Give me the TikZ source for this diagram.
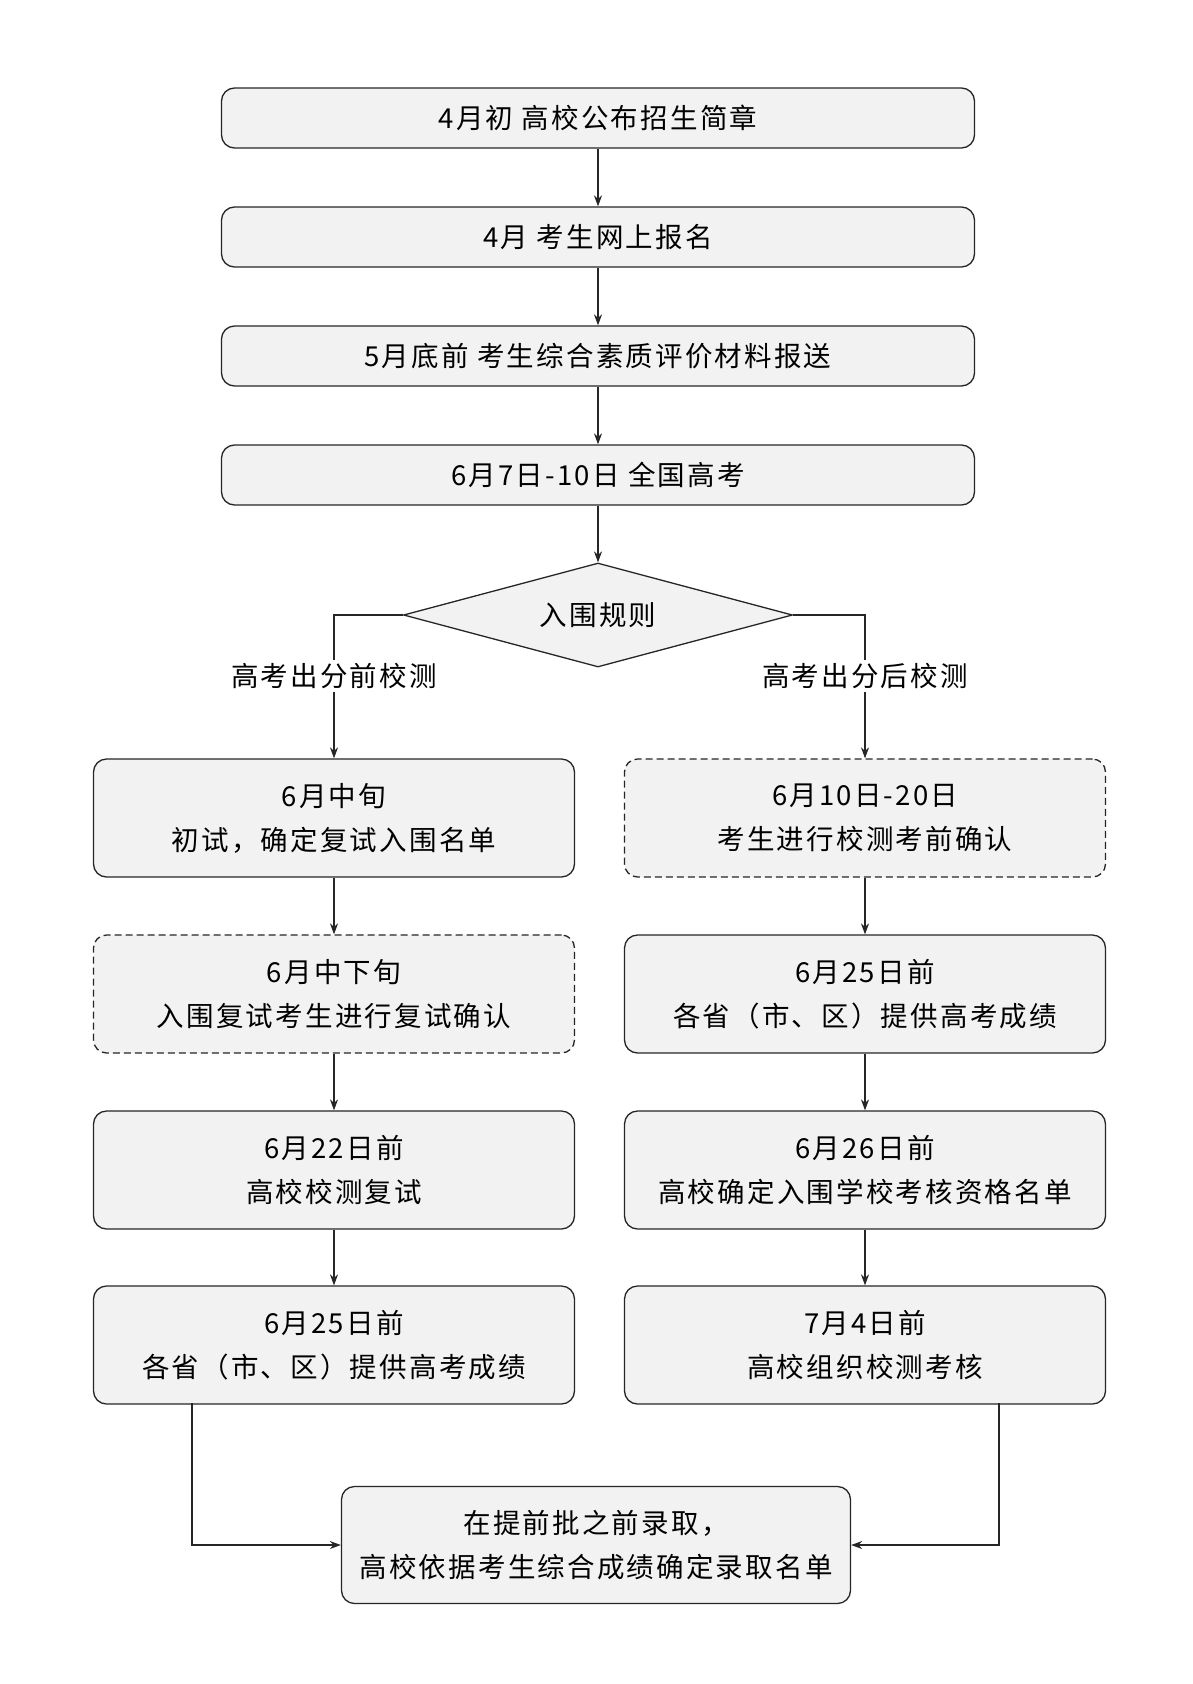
\documentclass[tikz,border=0pt]{standalone}
\usepackage{fontspec}
\setmainfont{Noto Sans CJK SC}[LetterSpace=8]
\usetikzlibrary{shapes.geometric,arrows.meta}
\begin{document}
\begin{tikzpicture}[x=1pt,y=-1pt,
  txt/.style={font=\fontsize{27.5}{44}\selectfont, text=black, align=center},
  box/.style={txt, draw=black!85, line width=1.3pt, fill=black!5, rounded corners=13pt, inner sep=0pt},
  wide/.style={box, minimum width=753pt, minimum height=60pt},
  col/.style={box, minimum width=481pt, minimum height=118pt},
  dbox/.style={col, dash pattern=on 7pt off 4pt},
  fin/.style={box, minimum width=509pt, minimum height=117pt},
  lbl/.style={txt, fill=white, inner sep=3pt},
  arr/.style={draw=black!85, line width=1.3pt, -{Stealth[length=11pt,width=8pt]}},
  ln/.style={draw=black!85, line width=1.3pt}
]
\useasboundingbox (0,0) rectangle (1192,1684);
\fill[white] (0,0) rectangle (1192,1684);

\node[wide] (a1) at (598,118) {4月初 高校公布招生简章};
\node[wide] (a2) at (598,237) {4月 考生网上报名};
\node[wide] (a3) at (598,356) {5月底前 考生综合素质评价材料报送};
\node[wide] (a4) at (598,475) {6月7日-10日 全国高考};

\node[txt, draw=black!85, line width=1.3pt, fill=black!5, shape=diamond, inner sep=0pt,
      minimum width=389pt, minimum height=104pt, shape aspect=3.7] (d) at (598,615) {入围规则};

\node[col]  (l1) at (334,818)  {6月中旬\\初试，确定复试入围名单};
\node[dbox] (l2) at (334,994)  {6月中下旬\\入围复试考生进行复试确认};
\node[col]  (l3) at (334,1170) {6月22日前\\高校校测复试};
\node[col]  (l4) at (334,1345) {6月25日前\\各省（市、区）提供高考成绩};

\node[dbox] (r1) at (865,818)  {6月10日-20日\\考生进行校测考前确认};
\node[col]  (r2) at (865,994)  {6月25日前\\各省（市、区）提供高考成绩};
\node[col]  (r3) at (865,1170) {6月26日前\\高校确定入围学校考核资格名单};
\node[col]  (r4) at (865,1345) {7月4日前\\高校组织校测考核};

\node[fin] (f) at (596,1545) {在提前批之前录取，\\高校依据考生综合成绩确定录取名单};

\draw[arr] (a1) -- (a2);
\draw[arr] (a2) -- (a3);
\draw[arr] (a3) -- (a4);
\draw[arr] (a4) -- (d);

\draw[arr] (d.west) -| (l1.north);
\draw[arr] (d.east) -| (r1.north);
\node[lbl] (tl) at (334,676) {高考出分前校测};
\node[lbl] (tr) at (865,676) {高考出分后校测};

\draw[arr] (l1) -- (l2);
\draw[arr] (l2) -- (l3);
\draw[arr] (l3) -- (l4);
\draw[arr] (r1) -- (r2);
\draw[arr] (r2) -- (r3);
\draw[arr] (r3) -- (r4);

\coordinate (lb) at (192,1403);
\coordinate (rb) at (999,1403);
\draw[arr] (lb) |- (f.west);
\draw[arr] (rb) |- (f.east);
\end{tikzpicture}
\end{document}
